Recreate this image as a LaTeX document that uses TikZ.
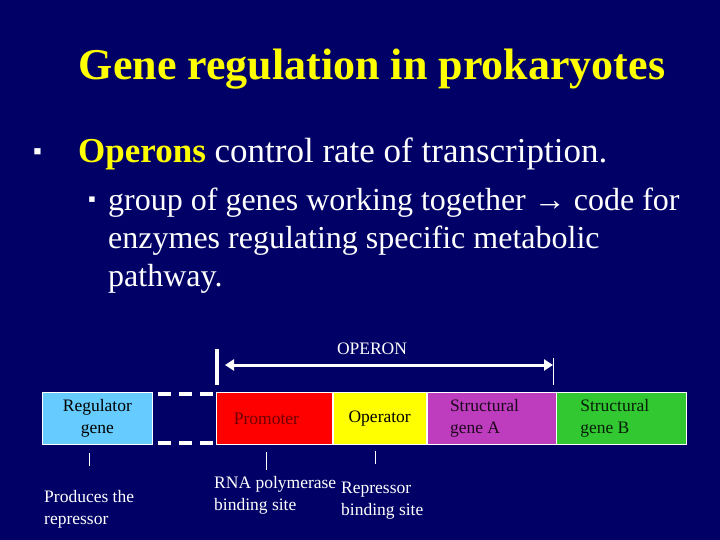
\documentclass[tikz,border=0pt]{standalone}
\usepackage{fontspec}
\setmainfont{Liberation Serif}
\usetikzlibrary{arrows.meta, positioning}
\definecolor{slidebg}{RGB}{0,0,102}
\definecolor{titleyellow}{RGB}{255,255,0}
\definecolor{regblue}{RGB}{102,204,255}
\definecolor{promred}{RGB}{255,0,0}
\definecolor{promtext}{RGB}{110,0,0}
\definecolor{opyellow}{RGB}{255,255,0}
\definecolor{genepurple}{RGB}{190,60,190}
\definecolor{genegreen}{RGB}{50,200,50}
\def\boxtop{392}
\def\boxheight{52}
\def\arrowy{365}
\tikzset{>=Latex}
\tikzset{
  genebox/.style={draw=white, line width=0.8pt, minimum height=\boxheight pt, inner sep=0pt, anchor=north west, align=center, text=black, font=\fontsize{17.5}{22}\selectfont},
  smalltext/.style={text=white, align=left, anchor=base west, inner sep=0pt, font=\fontsize{17.5}{21.5}\selectfont},
  tick/.style={white, line width=0.8pt}
}

\begin{document}
\begin{tikzpicture}[x=1pt, y=-1pt]

% Background
\fill[slidebg] (0,0) rectangle (720,540);
\useasboundingbox (0,0) rectangle (720,540);

% Title
\node[text=titleyellow, font=\fontsize{44}{50}\selectfont\bfseries, anchor=base, inner sep=0pt] (title) at (372, 80) {Gene regulation in prokaryotes};

% Bullets
\node[text=white, font=\fontsize{25}{26}\selectfont, anchor=base west, inner sep=0pt] (bulletA) at (33, 160) {▪};
\node[text=white, font=\fontsize{35}{40}\selectfont, anchor=base west, inner sep=0pt] (lineA) at (78, 163) {\textcolor{titleyellow}{\bfseries Operons} control rate of transcription.};
\node[text=white, font=\fontsize{22}{24}\selectfont, anchor=base west, inner sep=0pt] (bulletB) at (88, 207) {▪};
\node[text=white, font=\fontsize{32}{38}\selectfont, anchor=base west, inner sep=0pt, align=left] (lineB) at (108, 286) {group of genes working together → code for\\enzymes regulating specific metabolic\\pathway.};

% Genes
\node[genebox, fill=regblue, minimum width=110pt] (reg) at (42, \boxtop) {Regulator\\gene};
\node[genebox, fill=promred, minimum width=116pt, text=promtext] (prom) at (216, \boxtop) {Promoter\hspace*{16pt}};
\node[genebox, fill=opyellow, minimum width=93pt] (oper) at (prom.north east) {Operator};
\node[genebox, fill=genepurple, minimum width=129pt, align=left, text={black!85!genepurple}] (genA) at (oper.north east) {Structural\hspace*{14pt}\\gene A};
\node[genebox, fill=genegreen, minimum width=130pt, align=left, text={black!85!genegreen}] (genB) at (genA.north east) {Structural\hspace*{14pt}\\gene B};

% Dashed link
\draw[white, line width=4pt, dash pattern=on 13pt off 8pt, shorten <=5pt] (reg.north east) ++(0,2) coordinate (dashA) -- (dashA -| prom.west);
\draw[white, line width=4pt, dash pattern=on 13pt off 8pt, shorten <=5pt] (reg.south east) ++(0,-2) coordinate (dashB) -- (dashB -| prom.west);

% Operon span
\coordinate (opL) at (217, \arrowy);
\coordinate (opR) at (553, \arrowy);
\draw[white, line width=4pt] (217, 349) -- (217, 385);
\draw[white, line width=0.8pt] (553, 358) -- (553, 385);
\draw[white, line width=3pt, <->, >={Triangle[length=9pt, width=11pt]}, shorten <=8pt] (opL) -- (opR);
\node[text=white, font=\fontsize{17.5}{20}\selectfont, anchor=base] (operon) at (372, 354) {OPERON};

% Ticks
\draw[tick] (89, 453) -- (89, 466);
\draw[tick] (266, 452) -- (266, 470);
\draw[tick] (375, 451) -- (375, 464);

% Notes
\node[smalltext] (regnote) at (44, 524) {Produces the\\repressor};
\node[smalltext] (promnote) at (214, 510) {RNA polymerase\\binding site};
\node[smalltext] (opnote) at (341, 515) {Repressor\\binding site};

\end{tikzpicture}
\end{document}
